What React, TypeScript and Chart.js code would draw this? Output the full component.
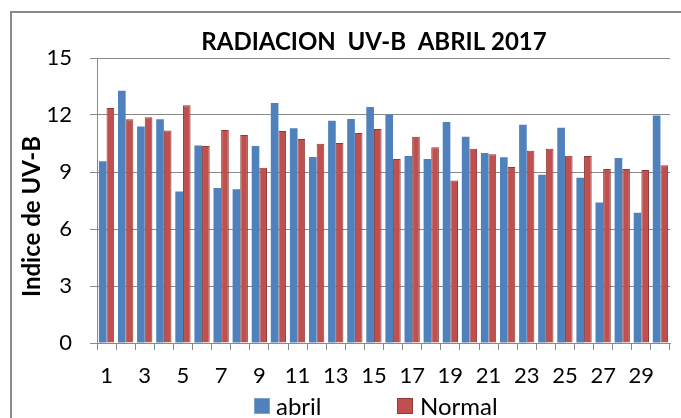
import React, { useEffect, useRef } from "react";
import { Chart, registerables } from "chart.js";

Chart.register(...registerables);

const days: string[] = Array.from({ length: 30 }, (_, i) => String(i + 1));

const abril: number[] = [
  9.56, 13.28, 11.4, 11.77, 7.98, 10.39, 8.16, 8.09, 10.37, 12.63,
  11.3, 9.79, 11.7, 11.79, 12.42, 12.02, 9.84, 9.68, 11.63, 10.86,
  10.0, 9.77, 11.49, 8.86, 11.33, 8.7, 7.39, 9.74, 6.86, 11.98,
];

const normal: number[] = [
  12.37, 11.77, 11.88, 11.19, 12.51, 10.37, 11.21, 10.95, 9.23, 11.16,
  10.74, 10.49, 10.53, 11.05, 11.26, 9.68, 10.86, 10.3, 8.55, 10.23,
  9.93, 9.26, 10.12, 10.23, 9.86, 9.84, 9.16, 9.16, 9.1, 9.35,
];

const Y_MIN = 0;
const Y_MAX = 15;
const Y_STEP = 3;

const TITLE = "RADIACION  UV-B  ABRIL 2017";
const Y_TITLE = "Indice de UV-B";
const SERIES_NAMES = ["abril", "Normal"];

const FONT = "Lato, 'Noto Sans', sans-serif";
const GRID = "#898989";
const BLUE = "#4F81BD";
const RED = "#C0504D";
const RED_BORDER = "#8E3A38";

export default function App() {
  const ref = useRef<HTMLCanvasElement | null>(null);

  useEffect(() => {
    if (!ref.current) return;
    const frame = {
      id: "frame",
      beforeDraw(chart: any) {
        const ctx = chart.ctx;
        ctx.save();
        ctx.fillStyle = "#fff";
        ctx.fillRect(0, 0, chart.width, chart.height);
        ctx.strokeStyle = GRID;
        ctx.lineWidth = 2;
        ctx.strokeRect(11, 12, 800, 600);
        ctx.restore();
      },
      afterDraw(chart: any) {
        const ctx = chart.ctx;
        const a = chart.chartArea;
        ctx.save();
        ctx.fillStyle = "#000";
        ctx.textAlign = "center";
        ctx.textBaseline = "middle";
        ctx.font = `bold 24px ${FONT}`;
        ctx.fillText(TITLE, 374, 42.5);
        ctx.translate(32, (a.top + a.bottom) / 2 + 16);
        ctx.rotate(-Math.PI / 2);
        ctx.font = `bold 24px ${FONT}`;
        ctx.fillText(Y_TITLE, 0, 0);
        ctx.restore();
      },
    };
    const chart = new Chart(ref.current, {
      type: "bar",
      data: {
        labels: days,
        datasets: [
          {
            label: SERIES_NAMES[0],
            data: abril,
            backgroundColor: BLUE,
            borderWidth: 0,
            categoryPercentage: 0.8,
            barPercentage: 1,
          },
          {
            label: SERIES_NAMES[1],
            data: normal,
            backgroundColor: RED,
            borderColor: RED_BORDER,
            borderWidth: 1,
            categoryPercentage: 0.8,
            barPercentage: 1,
          },
        ],
      },
      options: {
        responsive: false,
        animation: false,
        layout: { padding: { left: 12, right: 11, top: 58, bottom: 0 } },
        plugins: {
          legend: { display: false },
          tooltip: { enabled: false },
          title: { display: false },
        },
        scales: {
          x: {
            afterFit: (s: any) => {
              s.height = 75;
            },
            grid: {
              drawOnChartArea: false,
              drawTicks: true,
              tickLength: 7,
              color: GRID,
              offset: true,
            },
            border: { color: GRID, width: 1 },
            ticks: {
              autoSkip: false,
              maxRotation: 0,
              color: "#000",
              padding: 13,
              font: { family: FONT, size: 22 },
              callback: (_v: any, i: number) => (i % 2 === 0 ? days[i] : ""),
            },
          },
          y: {
            min: Y_MIN,
            max: Y_MAX,
            afterFit: (s: any) => {
              s.width = 85;
            },
            grid: { color: GRID, tickLength: 7, drawTicks: true },
            border: { color: GRID, width: 1 },
            ticks: {
              stepSize: Y_STEP,
              color: "#000",
              padding: 18,
              font: { family: FONT, size: 22 },
            },
          },
        },
      },
      plugins: [frame],
    });
    return () => chart.destroy();
  }, []);

  const box = (color: string, border: string, left: number) => ({
    position: "absolute" as const,
    left,
    top: 398,
    width: 14,
    height: 14,
    background: color,
    border: `1px solid ${border}`,
  });
  const txt = (left: number) => ({
    position: "absolute" as const,
    left,
    top: 392,
    fontFamily: FONT,
    fontSize: 24,
    lineHeight: "28px",
    color: "#000",
    whiteSpace: "nowrap" as const,
  });

  return (
    <div style={{ position: "fixed", left: 0, top: 0, width: 681, height: 418, background: "#fff", overflow: "hidden" }}>
      <canvas ref={ref} width={681} height={418} style={{ position: "absolute", left: 0, top: 0, width: 681, height: 418 }} />
      <div style={box(BLUE, "#7FA2CF", 254)} />
      <div style={txt(276)}>{SERIES_NAMES[0]}</div>
      <div style={box(RED, RED_BORDER, 397)} />
      <div style={txt(420)}>{SERIES_NAMES[1]}</div>
    </div>
  );
}
